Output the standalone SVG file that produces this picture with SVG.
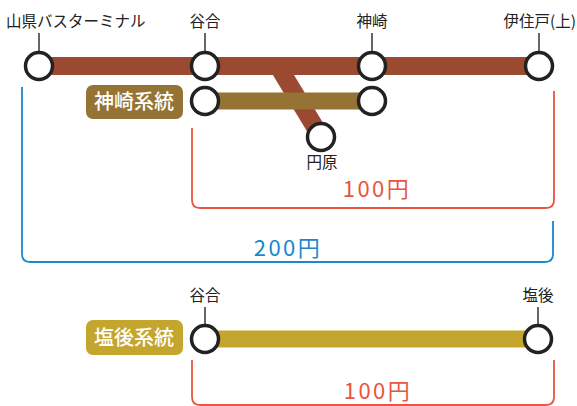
<svg xmlns="http://www.w3.org/2000/svg" width="577" height="406" viewBox="0 0 577 406">
<style>
.lbl{font-family:"Noto Sans CJK JP","Noto Sans",sans-serif;font-size:15.5px;fill:#222}
.badge{font-family:"Noto Sans CJK JP","Noto Sans",sans-serif;font-size:20px;font-weight:500;fill:#fff}
.fare{font-family:"Noto Sans CJK JP","Noto Sans",sans-serif;font-size:22px;letter-spacing:2.5px}
.st{fill:#fff;stroke:#222;stroke-width:3.5}
.tick{stroke:#333;stroke-width:1.5}
.br{fill:none;stroke-width:1.8}
</style>
<rect width="577" height="406" fill="#fff"/>
<g id="connectors">
  <line x1="39" y1="66" x2="539" y2="66" stroke="#9b4a31" stroke-width="18"/>
  <line x1="278" y1="66" x2="321" y2="137" stroke="#9b4a31" stroke-width="18"/>
  <line x1="205" y1="101" x2="372" y2="101" stroke="#957334" stroke-width="17"/>
  <line x1="205" y1="339" x2="538" y2="339" stroke="#c4a52e" stroke-width="17"/>
  <line class="tick" x1="39" y1="33" x2="39" y2="52"/>
  <line class="tick" x1="205" y1="33" x2="205" y2="52"/>
  <line class="tick" x1="372" y1="33" x2="372" y2="52"/>
  <line class="tick" x1="539" y1="33" x2="539" y2="52"/>
  <line class="tick" x1="205" y1="307" x2="205" y2="325"/>
  <line class="tick" x1="538" y1="307" x2="538" y2="325"/>
</g>
<g id="st-yamagata"><circle class="st" cx="39" cy="66" r="13.5"/><text class="lbl" x="6" y="27">山県バスターミナル</text></g>
<g id="st-taniai"><circle class="st" cx="205" cy="66" r="13.5"/><text class="lbl" x="205" y="27" text-anchor="middle">谷合</text></g>
<g id="st-kanzaki"><circle class="st" cx="372" cy="66" r="13.5"/><text class="lbl" x="372" y="27" text-anchor="middle">神崎</text></g>
<g id="st-ijudo"><circle class="st" cx="539" cy="66" r="13.5"/><text class="lbl" x="576" y="27" text-anchor="end">伊住戸(上)</text></g>
<g id="st-enbara"><circle class="st" cx="321" cy="137" r="13.5"/><text class="lbl" x="322" y="168" text-anchor="middle">円原</text></g>
<g id="st-taniai-k"><circle class="st" cx="205" cy="101" r="13.5"/></g>
<g id="st-kanzaki-k"><circle class="st" cx="372" cy="101" r="13.5"/></g>
<g id="badge-kanzaki"><rect x="86" y="85" width="97" height="34" rx="7" fill="#957334"/><text class="badge" x="134" y="109" text-anchor="middle">神崎系統</text></g>
<g id="fare-red1"><path class="br" stroke="#e9553f" d="M192,128 V200 Q192,208 200,208 H546 Q554,208 554,200 V91"/><text class="fare" x="377" y="197" text-anchor="middle" fill="#e9553f">100円</text></g>
<g id="fare-blue"><path class="br" stroke="#1a88cc" d="M22,87 V254 Q22,262 30,262 H545 Q553,262 553,254 V221"/><text class="fare" x="288" y="256" text-anchor="middle" fill="#1a88cc">200円</text></g>
<g id="st-taniai-s"><circle class="st" cx="205" cy="339" r="13.5"/><text class="lbl" x="205" y="301" text-anchor="middle">谷合</text></g>
<g id="st-shiogo"><circle class="st" cx="538" cy="339" r="13.5"/><text class="lbl" x="538" y="301" text-anchor="middle">塩後</text></g>
<g id="badge-shiogo"><rect x="86" y="320" width="97" height="35" rx="7" fill="#c4a52e"/><text class="badge" x="134" y="345" text-anchor="middle">塩後系統</text></g>
<g id="fare-red2"><path class="br" stroke="#e9553f" d="M192,360 V397 Q192,405 200,405 H546 Q554,405 554,397 V360"/><text class="fare" x="378" y="399" text-anchor="middle" fill="#e9553f">100円</text></g>
</svg>
